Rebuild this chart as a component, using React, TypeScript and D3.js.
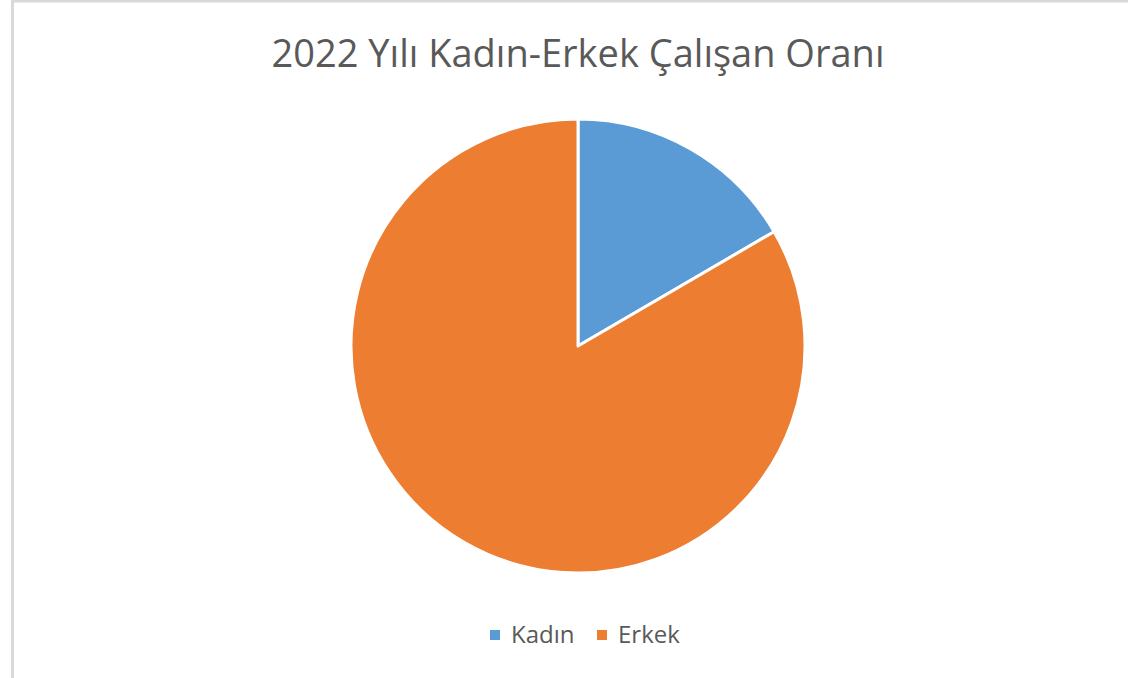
import React, { useEffect, useRef } from 'react';
import * as d3 from 'd3';

const categories = ['Kadın', 'Erkek'];
const values = [16.6, 83.4];
const colors = ['#5b9bd5', '#ed7d31'];
const title = '2022 Yılı Kadın-Erkek Çalışan Oranı';

const App = () => {
  const chartRef = useRef<HTMLDivElement | null>(null);

  useEffect(() => {
    const svgWidth = 1128;
    const svgHeight = 678;
    const cx = 578;
    const cy = 346;
    const radius = 227;

    const svg = d3
      .select(chartRef.current)
      .append('svg')
      .attr('width', svgWidth)
      .attr('height', svgHeight)
      .style('position', 'absolute')
      .style('left', 0)
      .style('top', 0)
      .style('font-family', 'Open Sans, Noto Sans, sans-serif');

    svg.append('rect')
      .attr('width', svgWidth)
      .attr('height', svgHeight)
      .attr('fill', '#fff');

    // chart frame
    svg.append('rect')
      .attr('x', 12.5)
      .attr('y', 1)
      .attr('width', svgWidth + 20)
      .attr('height', svgHeight + 20)
      .attr('fill', 'none')
      .attr('stroke', '#d9d9d9')
      .attr('stroke-width', 3);

    svg.append('text')
      .attr('x', cx)
      .attr('y', 67)
      .attr('text-anchor', 'middle')
      .attr('fill', '#595959')
      .style('font-size', '38px')
      .text(title);

    const data = categories.map((c, i) => ({ name: c, value: values[i], color: colors[i] }));

    const pie = d3.pie<any>().sort(null).value((d) => d.value);
    const arc = d3.arc<any>().innerRadius(0).outerRadius(radius);

    const g = svg.append('g').attr('transform', `translate(${cx},${cy})`);
    g.selectAll('path')
      .data(pie(data))
      .enter()
      .append('path')
      .attr('d', arc)
      .attr('fill', (d) => d.data.color)
      .attr('stroke', '#fff')
      .attr('stroke-width', 3)
      .attr('stroke-linejoin', 'round');

    // Legend
    const legendX = [490, 597];
    const legend = svg.append('g');
    data.forEach((d, i) => {
      legend.append('rect')
        .attr('x', legendX[i])
        .attr('y', 630)
        .attr('width', 10)
        .attr('height', 10)
        .attr('fill', d.color);
      legend.append('text')
        .attr('x', legendX[i] + 21)
        .attr('y', 643)
        .attr('fill', '#595959')
        .style('font-size', '24px')
        .text(d.name);
    });

    return () => {
      d3.select(chartRef.current).selectAll('*').remove();
    };
  }, []);

  return <div ref={chartRef} className="chart"></div>;
};

export default App;
